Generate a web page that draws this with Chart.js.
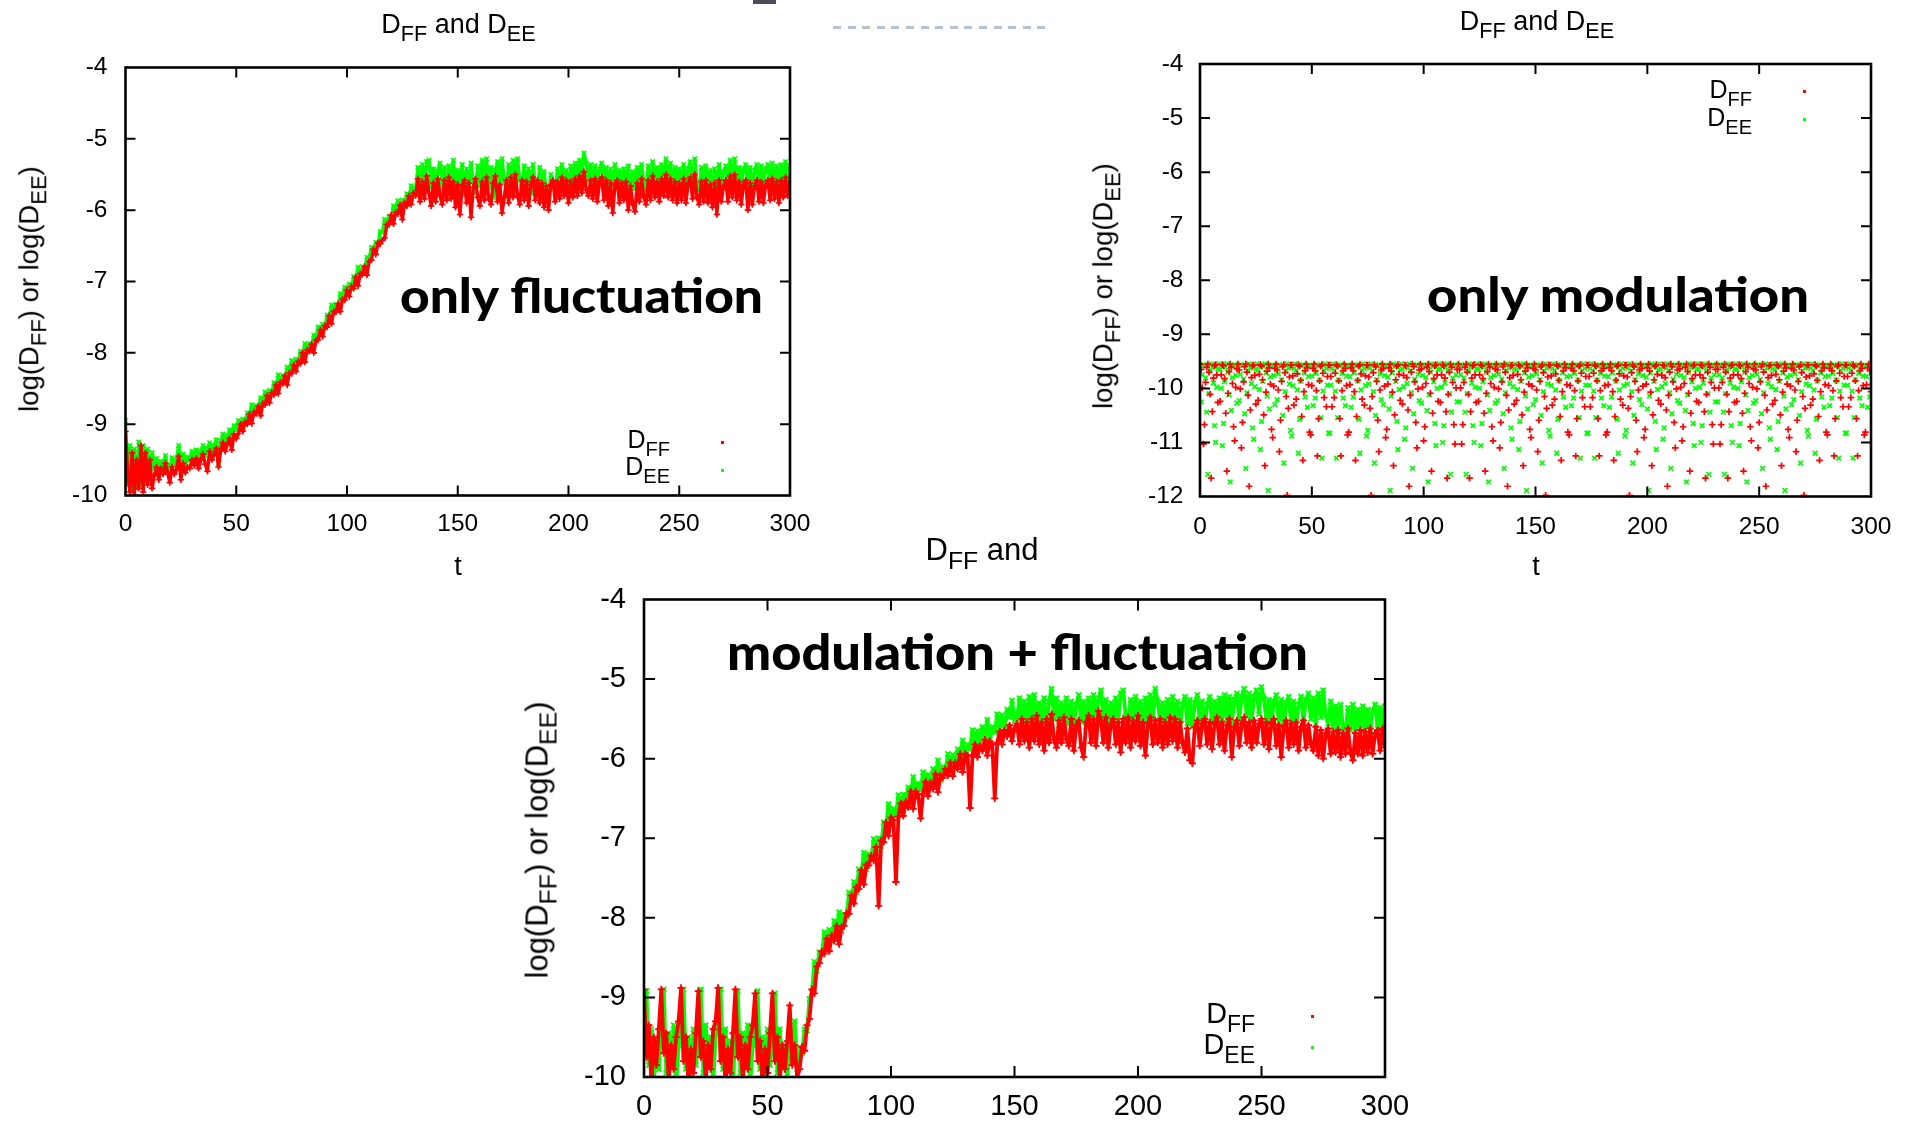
<!DOCTYPE html>
<html>
<head>
<meta charset="utf-8">
<title>D_FF and D_EE</title>
<script src="https://cdn.jsdelivr.net/npm/chart.js@4.4.1/dist/chart.umd.min.js"></script>
<style>
  html, body { margin: 0; padding: 0; background: #fff; }
  #page { position: relative; width: 1917px; height: 1127px; overflow: hidden;
          font-family: "Liberation Sans", Arial, Helvetica, sans-serif; color: #000; }
  canvas { position: absolute; left: 0; top: 0; }
  .txt { position: absolute; white-space: nowrap; line-height: 1; }
  .txt sub { font-size: 0.8em; vertical-align: -0.38em; line-height: 0; }
  .ctr { transform: translateX(-50%); }
  .rgt { transform: translateX(-100%); }
  .rot { transform: translate(-50%, -50%) rotate(-90deg); }
  .ann { position: absolute; white-space: nowrap; line-height: 1; transform-origin: 0 0;
         font-family: Lato, "Open Sans", sans-serif; font-weight: 900; color: #000; }
  .key { position: absolute; width: 2.5px; height: 2.5px; }
  #dash { position: absolute; left: 833px; top: 26px; width: 213px; height: 2.5px;
          background: repeating-linear-gradient(90deg, #b3c3d4 0 8px, transparent 8px 14.6px); }
  #bar { position: absolute; left: 753px; top: 0; width: 23px; height: 4px; background: #4b4b59; }
</style>
</head>
<body>
<div id="page">
  <canvas id="c1" width="1917" height="1127"></canvas>
  <canvas id="c2" width="1917" height="1127"></canvas>
  <canvas id="c3" width="1917" height="1127"></canvas>

  <div id="bar"></div>
  <div id="dash"></div>

  <!-- left panel: only fluctuation -->
  <div class="txt ctr" style="left:458.5px; top:10.5px; font-size:27px;">D<sub>FF</sub> and D<sub>EE</sub></div>
  <div class="txt rot" style="left:29px; top:289px; font-size:27.5px;">log(D<sub>FF</sub>) or log(D<sub>EE</sub>)</div>
  <div class="txt ctr" style="left:458px; top:552.5px; font-size:27px;">t</div>
  <div class="ann" data-w="363" style="left:400px; top:271.9px; font-size:47px;">only fluctuation</div>
  <div class="txt rgt" style="left:670px; top:427px; font-size:25px;">D<sub>FF</sub></div>
  <div class="txt rgt" style="left:670px; top:453.8px; font-size:25px;">D<sub>EE</sub></div>
  <div class="key" style="left:721px; top:441px; background:#ff0000;"></div>
  <div class="key" style="left:721px; top:469px; background:#00ff00;"></div>

  <!-- right panel: only modulation -->
  <div class="txt ctr" style="left:1537px; top:7.6px; font-size:27px;">D<sub>FF</sub> and D<sub>EE</sub></div>
  <div class="txt rot" style="left:1103px; top:286px; font-size:27.5px;">log(D<sub>FF</sub>) or log(D<sub>EE</sub>)</div>
  <div class="txt ctr" style="left:1536px; top:553px; font-size:27px;">t</div>
  <div class="ann" data-w="382" style="left:1427px; top:271.3px; font-size:47px;">only modulation</div>
  <div class="txt rgt" style="left:1752px; top:76.8px; font-size:25px;">D<sub>FF</sub></div>
  <div class="txt rgt" style="left:1752px; top:104.8px; font-size:25px;">D<sub>EE</sub></div>
  <div class="key" style="left:1803px; top:90px; background:#ff0000;"></div>
  <div class="key" style="left:1803px; top:118px; background:#00ff00;"></div>

  <!-- bottom panel: modulation + fluctuation -->
  <div class="txt" style="left:925.5px; top:533.5px; font-size:31px;">D<sub>FF</sub> and</div>
  <div class="txt rot" style="left:537px; top:839.5px; font-size:31px;">log(D<sub>FF</sub>) or log(D<sub>EE</sub>)</div>
  <div class="ann" data-w="581" style="left:727px; top:625.6px; font-size:50px;">modulation + fluctuation</div>
  <div class="txt rgt" style="left:1255px; top:998.7px; font-size:28.75px;">D<sub>FF</sub></div>
  <div class="txt rgt" style="left:1255px; top:1029.7px; font-size:28.75px;">D<sub>EE</sub></div>
  <div class="key" style="left:1311px; top:1015px; background:#ff0000;"></div>
  <div class="key" style="left:1311px; top:1046px; background:#00ff00;"></div>
</div>

<script>
// ---- sampling of the time axis ----
const T_STEP = 1;                 // one sample per unit of t
const xTicks = [0, 50, 100, 150, 200, 250, 300];
const yTicksA = [-10, -9, -8, -7, -6, -5, -4];
const yTicksB = [-12, -11, -10, -9, -8, -7, -6, -5, -4];

// ---- only fluctuation: log10 D_FF (red) and log10 D_EE (green), t = 0..300 ----
const dffFluct = [
  -9.1,-9.7,-9.95,-9.4,-10.0,-9.5,-9.9,-9.3,-9.95,-9.4,-9.85,-9.5,-9.9,
  -9.72,-9.6,-9.78,-9.62,-9.7,-9.55,-9.68,-9.82,-9.6,-9.7,-9.64,-9.45,-9.78,-9.55,-9.68,-9.6,-9.62,-9.5,
  -9.58,-9.48,-9.62,-9.5,-9.42,-9.56,-9.66,-9.38,-9.5,-9.42,-9.34,-9.6,-9.36,-9.26,-9.38,-9.28,-9.2,-9.36,-9.14,-9.2,
  -9.13,-9.0,-9.1,-8.97,-9.0,-8.86,-8.99,-8.83,-8.85,-8.75,-8.88,-8.71,
  -8.73,-8.6,-8.7,-8.56,-8.59,-8.45,-8.57,-8.41,-8.43,-8.32,-8.45,
  -8.28,-8.29,-8.17,-8.26,-8.12,-8.15,-8.0,-8.13,-7.96,-7.98,-7.88,-8.0,
  -7.82,-7.82,-7.68,-7.77,-7.62,-7.64,-7.48,-7.59,-7.42,-7.43,-7.31,-7.42,
  -7.25,-7.26,-7.12,-7.21,-7.07,-7.1,-6.94,-7.06,-6.89,-6.9,-6.79,-6.91,
  -6.72,-6.7,-6.55,-6.62,-6.46,-6.47,-6.42,-6.39,-6.2,-6.2,-6.07,
  -6.19,-6.03,-6.05,-5.93,-6.13,-5.9,-5.94,-5.8,-5.92,-5.76,
  -5.8,-5.56,-5.88,-5.6,-5.84,-5.52,-5.76,-5.94,-5.62,-5.88,-5.56,-5.8,-5.92,-5.58,-5.86,-5.54,-5.84,-5.6,-5.96,-5.64,
  -6.06,-5.66,-5.58,-5.9,-5.62,-6.1,-5.68,-5.56,-5.82,-5.94,-5.6,-5.86,-5.54,-5.84,-5.92,-5.62,-5.52,-5.88,-5.64,-6.04,
  -5.82,-5.58,-5.9,-5.54,-5.82,-5.5,-5.8,-5.92,-5.58,-5.86,-5.6,-5.94,-5.64,-5.54,-5.86,-5.58,-5.9,-5.62,-5.96,-5.66,
  -6.0,-5.64,-5.58,-5.88,-5.6,-5.84,-5.54,-5.8,-5.58,-5.9,-5.6,-5.82,-5.56,-5.8,-5.52,-5.76,-5.46,-5.72,-5.8,-5.58,
  -5.84,-5.56,-5.88,-5.6,-5.54,-5.86,-5.58,-5.94,-5.62,-6.04,-5.64,-5.58,-5.9,-5.62,-5.86,-5.6,-6.0,-5.66,-5.92,-6.02,
  -5.62,-5.88,-5.56,-5.82,-5.92,-5.58,-5.86,-5.52,-5.82,-5.6,-5.88,-5.56,-5.8,-5.5,-5.82,-5.56,-5.86,-5.6,-5.9,-5.62,
  -5.86,-5.56,-5.9,-5.62,-5.54,-5.84,-5.5,-5.82,-5.92,-5.6,-5.88,-5.58,-5.9,-5.64,-5.96,-5.62,-6.06,-5.58,-5.88,-5.66,
  -5.58,-5.88,-5.52,-5.82,-5.5,-5.86,-5.6,-5.92,-5.64,-5.58,-6.0,-5.62,-5.92,-5.66,-5.58,-5.88,-5.6,-5.9,-5.64,-5.58,
  -5.86,-5.56,-5.84,-5.6,-5.9,-5.58,-5.82,-5.54,-5.8,-5.6
];
const deeFluct = [
  -8.95,-9.85,-9.3,-9.95,-9.35,-9.9,-9.25,-9.85,-9.3,-9.8,-9.35,-9.75,-9.4,
  -9.62,-9.48,-9.66,-9.52,-9.6,-9.44,-9.58,-9.66,-9.47,-9.56,-9.5,-9.3,-9.54,-9.42,-9.56,-9.46,-9.5,-9.38,
  -9.48,-9.36,-9.46,-9.38,-9.3,-9.44,-9.34,-9.26,-9.38,-9.3,-9.22,-9.55,-9.24,-9.14,-9.26,-9.16,-9.08,-9.18,-9.02,-9.08,
  -8.95,-9.03,-8.93,-9.0,-8.84,-8.88,-8.73,-8.85,-8.74,-8.79,-8.63,-8.67,
  -8.55,-8.63,-8.53,-8.59,-8.42,-8.47,-8.31,-8.43,-8.32,-8.36,-8.2,
  -8.24,-8.11,-8.2,-8.09,-8.15,-7.98,-8.03,-7.87,-7.98,-7.87,-7.92,-7.75,
  -7.78,-7.64,-7.71,-7.6,-7.65,-7.47,-7.5,-7.33,-7.44,-7.32,-7.35,-7.17,
  -7.21,-7.08,-7.15,-7.04,-7.1,-6.93,-6.96,-6.8,-6.91,-6.79,-6.83,-6.66,
  -6.68,-6.52,-6.58,-6.45,-6.49,-6.3,-6.31,-6.13,-6.22,-6.09,-6.1,
  -5.94,-5.99,-5.87,-5.96,-5.86,-5.93,-5.77,-5.82,-5.66,-5.78,
  -5.7,-5.4,-5.75,-5.36,-5.62,-5.32,-5.3,-5.68,-5.42,-5.78,-5.45,-5.34,-5.7,-5.4,-5.8,-5.38,-5.64,-5.3,-5.72,-5.44,
  -5.7,-5.36,-5.78,-5.42,-5.7,-5.34,-5.6,-5.76,-5.38,-5.66,-5.3,-5.58,-5.28,-5.68,-5.4,-5.82,-5.44,-5.32,-5.66,-5.28,
  -5.6,-5.72,-5.36,-5.64,-5.3,-5.7,-5.28,-5.58,-5.72,-5.38,-5.68,-5.42,-5.76,-5.36,-5.66,-5.7,-5.4,-5.8,-5.46,-5.74,
  -5.86,-5.5,-5.62,-5.76,-5.42,-5.7,-5.36,-5.66,-5.44,-5.74,-5.38,-5.64,-5.34,-5.62,-5.3,-5.52,-5.2,-5.34,-5.6,-5.36,
  -5.66,-5.38,-5.7,-5.42,-5.34,-5.68,-5.4,-5.72,-5.42,-5.66,-5.36,-5.7,-5.44,-5.78,-5.42,-5.68,-5.38,-5.72,-5.46,-5.7,
  -5.4,-5.68,-5.36,-5.62,-5.72,-5.38,-5.66,-5.32,-5.64,-5.4,-5.7,-5.36,-5.6,-5.28,-5.62,-5.34,-5.68,-5.4,-5.7,-5.42,
  -5.66,-5.36,-5.7,-5.42,-5.32,-5.64,-5.28,-5.62,-5.72,-5.4,-5.68,-5.38,-5.7,-5.44,-5.76,-5.42,-5.68,-5.36,-5.7,-5.46,
  -5.38,-5.68,-5.3,-5.62,-5.28,-5.66,-5.4,-5.7,-5.42,-5.36,-5.66,-5.4,-5.72,-5.44,-5.36,-5.66,-5.38,-5.7,-5.42,-5.36,
  -5.64,-5.34,-5.62,-5.38,-5.68,-5.36,-5.6,-5.32,-5.58,-5.38
];

// ---- only modulation: samples at integer t (A) and at half-integer t (B) ----
const dffModA = [
  -9.55,-9.99,-10.67,-9.61,-9.7,-11.66,-9.81,-9.56,-10.26,-10.24,-9.56,-9.82,-11.53,-9.69,-9.61,-10.71,-9.98,
  -9.55,-10.01,-10.63,-9.6,-9.7,-11.81,-9.8,-9.57,-10.29,-10.22,-9.56,-9.84,-11.43,-9.68,-9.62,-10.76,-9.96,
  -9.55,-10.03,-10.59,-9.6,-9.71,-11.98,-9.79,-9.57,-10.31,-10.2,-9.56,-9.85,-11.33,-9.67,-9.62,-10.81,-9.95,
  -9.55,-10.04,-10.56,-9.59,-9.72,-12.2,-9.78,-9.57,-10.34,-10.17,-9.56,-9.86,-11.25,-9.67,-9.63,-10.86,-9.93,
  -9.55,-10.06,-10.52,-9.59,-9.73,-12.5,-9.77,-9.57,-10.37,-10.15,-9.56,-9.87,-11.17,-9.66,-9.63,-10.91,-9.92,
  -9.55,-10.07,-10.49,-9.59,-9.74,-12.98,-9.76,-9.58,-10.4,-10.13,-9.55,-9.88,-11.1,-9.66,-9.64,-10.97,-9.91,
  -9.55,-10.09,-10.46,-9.58,-9.75,-14,-9.75,-9.58,-10.43,-10.11,-9.55,-9.89,-11.03,-9.65,-9.65,-11.03,-9.89,
  -9.55,-10.11,-10.43,-9.58,-9.75,-14,-9.75,-9.58,-10.46,-10.09,-9.55,-9.91,-10.97,-9.64,-9.66,-11.1,-9.88,
  -9.55,-10.13,-10.4,-9.58,-9.76,-12.98,-9.74,-9.59,-10.49,-10.07,-9.55,-9.92,-10.91,-9.63,-9.66,-11.17,-9.87,
  -9.56,-10.15,-10.37,-9.57,-9.77,-12.5,-9.73,-9.59,-10.52,-10.06,-9.55,-9.93,-10.86,-9.63,-9.67,-11.25,-9.86,
  -9.56,-10.17,-10.34,-9.57,-9.78,-12.2,-9.72,-9.59,-10.56,-10.04,-9.55,-9.95,-10.81,-9.62,-9.67,-11.33,-9.85,
  -9.56,-10.2,-10.31,-9.57,-9.79,-11.98,-9.71,-9.6,-10.59,-10.03,-9.55,-9.96,-10.76,-9.62,-9.68,-11.43,-9.84,
  -9.56,-10.22,-10.29,-9.57,-9.8,-11.81,-9.7,-9.6,-10.63,-10.01,-9.55,-9.98,-10.71,-9.61,-9.69,-11.53,-9.82,
  -9.56,-10.24,-10.26,-9.56,-9.81,-11.66,-9.7,-9.61,-10.67,-9.99,-9.55,-9.99,-10.67,-9.61,-9.7,-11.66,-9.81,
  -9.56,-10.26,-10.24,-9.56,-9.82,-11.53,-9.69,-9.61,-10.71,-9.98,-9.55,-10.01,-10.63,-9.6,-9.7,-11.81,-9.8,
  -9.57,-10.29,-10.22,-9.56,-9.84,-11.43,-9.68,-9.62,-10.76,-9.96,-9.55,-10.03,-10.59,-9.6,-9.71,-11.98,-9.79,
  -9.57,-10.31,-10.2,-9.56,-9.85,-11.33,-9.67,-9.62,-10.81,-9.95,-9.55,-10.04,-10.56,-9.59,-9.72,-12.2,-9.78,
  -9.57,-10.34,-10.17,-9.56,-9.86,-11.25,-9.67,-9.63,-10.86,-9.93,-9.55,-10.06
];
const dffModB = [
  -9.65,-11.03,-9.89,-9.55,-10.11,-10.43,-9.58,-9.75,-14,-9.75,-9.58,-10.46,-10.09,-9.55,-9.91,-10.97,-9.64,
  -9.66,-11.1,-9.88,-9.55,-10.13,-10.4,-9.58,-9.76,-12.98,-9.74,-9.59,-10.49,-10.07,-9.55,-9.92,-10.91,-9.63,
  -9.66,-11.17,-9.87,-9.56,-10.15,-10.37,-9.57,-9.77,-12.5,-9.73,-9.59,-10.52,-10.06,-9.55,-9.93,-10.86,-9.63,
  -9.67,-11.25,-9.86,-9.56,-10.17,-10.34,-9.57,-9.78,-12.2,-9.72,-9.59,-10.56,-10.04,-9.55,-9.95,-10.81,-9.62,
  -9.67,-11.33,-9.85,-9.56,-10.2,-10.31,-9.57,-9.79,-11.98,-9.71,-9.6,-10.59,-10.03,-9.55,-9.96,-10.76,-9.62,
  -9.68,-11.43,-9.84,-9.56,-10.22,-10.29,-9.57,-9.8,-11.81,-9.7,-9.6,-10.63,-10.01,-9.55,-9.98,-10.71,-9.61,
  -9.69,-11.53,-9.82,-9.56,-10.24,-10.26,-9.56,-9.81,-11.66,-9.7,-9.61,-10.67,-9.99,-9.55,-9.99,-10.67,-9.61,
  -9.7,-11.66,-9.81,-9.56,-10.26,-10.24,-9.56,-9.82,-11.53,-9.69,-9.61,-10.71,-9.98,-9.55,-10.01,-10.63,-9.6,
  -9.7,-11.81,-9.8,-9.57,-10.29,-10.22,-9.56,-9.84,-11.43,-9.68,-9.62,-10.76,-9.96,-9.55,-10.03,-10.59,-9.6,
  -9.71,-11.98,-9.79,-9.57,-10.31,-10.2,-9.56,-9.85,-11.33,-9.67,-9.62,-10.81,-9.95,-9.55,-10.04,-10.56,-9.59,
  -9.72,-12.2,-9.78,-9.57,-10.34,-10.17,-9.56,-9.86,-11.25,-9.67,-9.63,-10.86,-9.93,-9.55,-10.06,-10.52,-9.59,
  -9.73,-12.5,-9.77,-9.57,-10.37,-10.15,-9.56,-9.87,-11.17,-9.66,-9.63,-10.91,-9.92,-9.55,-10.07,-10.49,-9.59,
  -9.74,-12.98,-9.76,-9.58,-10.4,-10.13,-9.55,-9.88,-11.1,-9.66,-9.64,-10.97,-9.91,-9.55,-10.09,-10.46,-9.58,
  -9.75,-14,-9.75,-9.58,-10.43,-10.11,-9.55,-9.89,-11.03,-9.65,-9.65,-11.03,-9.89,-9.55,-10.11,-10.43,-9.58,
  -9.75,-14,-9.75,-9.58,-10.46,-10.09,-9.55,-9.91,-10.97,-9.64,-9.66,-11.1,-9.88,-9.55,-10.13,-10.4,-9.58,
  -9.76,-12.98,-9.74,-9.59,-10.49,-10.07,-9.55,-9.92,-10.91,-9.63,-9.66,-11.17,-9.87,-9.56,-10.15,-10.37,-9.57,
  -9.77,-12.5,-9.73,-9.59,-10.52,-10.06,-9.55,-9.93,-10.86,-9.63,-9.67,-11.25,-9.86,-9.56,-10.17,-10.34,-9.57,
  -9.78,-12.2,-9.72,-9.59,-10.56,-10.04,-9.55,-9.95,-10.81,-9.62,-9.67
];
const deeModA = [
  -13.5,-9.75,-9.58,-10.44,-10.1,-9.55,-9.9,-11,-9.64,-9.65,-11.06,-9.88,-9.55,-10.12,-10.41,-9.58,-9.76,
  -13.28,-9.74,-9.58,-10.47,-10.08,-9.55,-9.91,-10.94,-9.64,-9.66,-11.13,-9.87,-9.55,-10.14,-10.38,-9.57,-9.76,
  -12.68,-9.73,-9.59,-10.5,-10.06,-9.55,-9.92,-10.88,-9.63,-9.67,-11.2,-9.86,-9.56,-10.16,-10.35,-9.57,-9.77,
  -12.33,-9.72,-9.59,-10.54,-10.05,-9.55,-9.94,-10.83,-9.63,-9.67,-11.29,-9.85,-9.56,-10.18,-10.32,-9.57,-9.78,
  -12.08,-9.71,-9.59,-10.57,-10.03,-9.55,-9.95,-10.78,-9.62,-9.68,-11.38,-9.84,-9.56,-10.21,-10.3,-9.57,-9.79,
  -11.89,-9.71,-9.6,-10.61,-10.02,-9.55,-9.97,-10.73,-9.62,-9.68,-11.48,-9.83,-9.56,-10.23,-10.27,-9.56,-9.8,
  -11.73,-9.7,-9.6,-10.65,-10,-9.55,-9.98,-10.69,-9.61,-9.69,-11.59,-9.81,-9.56,-10.25,-10.25,-9.56,-9.81,
  -11.59,-9.69,-9.61,-10.69,-9.98,-9.55,-10,-10.65,-9.61,-9.7,-11.73,-9.8,-9.56,-10.27,-10.23,-9.56,-9.83,
  -11.48,-9.68,-9.62,-10.73,-9.97,-9.55,-10.02,-10.61,-9.6,-9.71,-11.89,-9.79,-9.57,-10.3,-10.21,-9.56,-9.84,
  -11.38,-9.68,-9.62,-10.78,-9.95,-9.55,-10.03,-10.57,-9.59,-9.71,-12.08,-9.78,-9.57,-10.32,-10.18,-9.56,-9.85,
  -11.29,-9.67,-9.63,-10.83,-9.94,-9.55,-10.05,-10.54,-9.59,-9.72,-12.33,-9.77,-9.57,-10.35,-10.16,-9.56,-9.86,
  -11.2,-9.67,-9.63,-10.88,-9.92,-9.55,-10.06,-10.5,-9.59,-9.73,-12.68,-9.76,-9.57,-10.38,-10.14,-9.55,-9.87,
  -11.13,-9.66,-9.64,-10.94,-9.91,-9.55,-10.08,-10.47,-9.58,-9.74,-13.28,-9.76,-9.58,-10.41,-10.12,-9.55,-9.88,
  -11.06,-9.65,-9.64,-11,-9.9,-9.55,-10.1,-10.44,-9.58,-9.75,-13.5,-9.75,-9.58,-10.44,-10.1,-9.55,-9.9,
  -11,-9.64,-9.65,-11.06,-9.88,-9.55,-10.12,-10.41,-9.58,-9.76,-13.28,-9.74,-9.58,-10.47,-10.08,-9.55,-9.91,
  -10.94,-9.64,-9.66,-11.13,-9.87,-9.55,-10.14,-10.38,-9.57,-9.76,-12.68,-9.73,-9.59,-10.5,-10.06,-9.55,-9.92,
  -10.88,-9.63,-9.67,-11.2,-9.86,-9.56,-10.16,-10.35,-9.57,-9.77,-12.33,-9.72,-9.59,-10.54,-10.05,-9.55,-9.94,
  -10.83,-9.63,-9.67,-11.29,-9.85,-9.56,-10.18,-10.32,-9.57,-9.78,-12.08,-9.71
];
const deeModB = [
  -10.25,-9.56,-9.81,-11.59,-9.69,-9.61,-10.69,-9.98,-9.55,-10.0,-10.65,-9.61,-9.7,-11.73,-9.8,-9.56,-10.27,
  -10.23,-9.56,-9.83,-11.48,-9.68,-9.62,-10.73,-9.97,-9.55,-10.02,-10.61,-9.6,-9.71,-11.89,-9.79,-9.57,-10.3,
  -10.21,-9.56,-9.84,-11.38,-9.68,-9.62,-10.78,-9.95,-9.55,-10.03,-10.57,-9.59,-9.71,-12.08,-9.78,-9.57,-10.32,
  -10.18,-9.56,-9.85,-11.29,-9.67,-9.63,-10.83,-9.94,-9.55,-10.05,-10.54,-9.59,-9.72,-12.33,-9.77,-9.57,-10.35,
  -10.16,-9.56,-9.86,-11.2,-9.67,-9.63,-10.88,-9.92,-9.55,-10.06,-10.5,-9.59,-9.73,-12.68,-9.76,-9.57,-10.38,
  -10.14,-9.55,-9.87,-11.13,-9.66,-9.64,-10.94,-9.91,-9.55,-10.08,-10.47,-9.58,-9.74,-13.28,-9.76,-9.58,-10.41,
  -10.12,-9.55,-9.88,-11.06,-9.65,-9.64,-11.0,-9.9,-9.55,-10.1,-10.44,-9.58,-9.75,-13.5,-9.75,-9.58,-10.44,
  -10.1,-9.55,-9.9,-11.0,-9.64,-9.65,-11.06,-9.88,-9.55,-10.12,-10.41,-9.58,-9.76,-13.28,-9.74,-9.58,-10.47,
  -10.08,-9.55,-9.91,-10.94,-9.64,-9.66,-11.13,-9.87,-9.55,-10.14,-10.38,-9.57,-9.76,-12.68,-9.73,-9.59,-10.5,
  -10.06,-9.55,-9.92,-10.88,-9.63,-9.67,-11.2,-9.86,-9.56,-10.16,-10.35,-9.57,-9.77,-12.33,-9.72,-9.59,-10.54,
  -10.05,-9.55,-9.94,-10.83,-9.63,-9.67,-11.29,-9.85,-9.56,-10.18,-10.32,-9.57,-9.78,-12.08,-9.71,-9.59,-10.57,
  -10.03,-9.55,-9.95,-10.78,-9.62,-9.68,-11.38,-9.84,-9.56,-10.21,-10.3,-9.57,-9.79,-11.89,-9.71,-9.6,-10.61,
  -10.02,-9.55,-9.97,-10.73,-9.62,-9.68,-11.48,-9.83,-9.56,-10.23,-10.27,-9.56,-9.8,-11.73,-9.7,-9.61,-10.65,
  -10.0,-9.55,-9.98,-10.69,-9.61,-9.69,-11.59,-9.81,-9.56,-10.25,-10.25,-9.56,-9.81,-11.59,-9.69,-9.61,-10.69,
  -9.98,-9.55,-10.0,-10.65,-9.61,-9.7,-11.73,-9.8,-9.56,-10.27,-10.23,-9.56,-9.83,-11.48,-9.68,-9.62,-10.73,
  -9.97,-9.55,-10.02,-10.61,-9.6,-9.71,-11.89,-9.79,-9.57,-10.3,-10.21,-9.56,-9.84,-11.38,-9.68,-9.62,-10.78,
  -9.95,-9.55,-10.03,-10.57,-9.59,-9.71,-12.08,-9.78,-9.57,-10.32,-10.18,-9.56,-9.85,-11.29,-9.67,-9.63,-10.83,
  -9.94,-9.55,-10.05,-10.54,-9.59,-9.72,-12.33,-9.77,-9.57,-10.35,-10.16
];

// ---- modulation + fluctuation: log10 D_FF (red) and log10 D_EE (green), t = 0..300 ----
const dffBoth = [
  -8.9,-9.75,-9.35,-10.1,-9.5,-9.85,-9.4,-8.9,-9.7,-9.45,-10.05,-9.6,-9.9,-9.5,-9.3,-8.88,-9.8,-9.5,-10.1,-9.65,-9.95,
  -9.45,-8.92,-9.75,-9.55,-10.05,-9.6,-9.9,-9.4,-9.3,-8.88,-9.8,-9.5,-10.1,-9.65,-9.95,-9.45,-8.9,-9.75,-9.5,-10.05,
  -9.6,-9.9,-9.5,-9.35,-8.95,-9.8,-9.55,-10.1,-9.65,-9.95,-9.45,-8.95,-9.8,-9.5,-10.05,-9.6,-9.9,-9.55,-9.1,-9.85,-9.6,-10.0,
  -9.9,-9.62,-9.67,-9.35,-9.27,-8.9,-8.95,-8.61,-8.57,-8.42,-8.45,-8.26,-8.42,-8.22,-8.29,-8.1,-8.33,-8.11,-8.1,-7.94,
  -7.95,-7.72,-7.82,-7.61,-7.64,-7.4,-7.58,-7.33,-7.34,-7.22,-7.28,-7.11,-7.85,-7.03,-7.05,-6.8,-6.97,-6.74,-6.77,-7.55,
  -6.73,-6.56,-6.72,-6.54,-6.61,-6.41,-6.63,-6.41,-6.45,-6.75,-6.44,-6.29,-6.47,-6.3,-6.38,-6.19,-6.42,-6.21,-6.24,-6.13,
  -6.21,-6.05,-6.22,-6.05,-6.13,-5.94,-6.17,-5.94,-5.96,-6.62,-5.96,-5.82,-5.98,-5.84,-5.9,-5.76,-5.96,-5.78,-5.82,-6.5,
  -5.8,-5.66,-5.82,-5.64,-5.72,-5.58,-5.78,-5.62,
  -5.56,-5.82,-5.5,-5.78,-5.54,-5.86,-5.5,-5.78,-5.46,-5.82,-5.54,-5.9,-5.5,-5.8,-5.44,-5.76,-5.86,-5.52,-5.8,-5.48,
  -5.76,-5.84,-5.5,-5.9,-5.58,-5.52,-5.86,-5.98,-5.54,-5.46,-5.8,-5.5,-5.84,-5.4,-5.52,-5.8,-5.48,-5.86,-5.56,-5.5,
  -5.82,-5.54,-5.92,-5.5,-5.8,-5.48,-5.86,-5.52,-5.78,-5.46,-5.84,-5.54,-5.96,-5.56,-5.48,-5.82,-5.52,-5.8,-5.5,-5.86,
  -5.54,-5.82,-5.48,-5.78,-5.5,-5.86,-5.54,-5.8,-5.92,-5.62,-6.02,-6.06,-5.6,-5.52,-5.84,-5.56,-5.5,-5.82,-5.54,-5.88,
  -5.56,-5.48,-5.82,-5.54,-5.9,-5.58,-5.5,-5.98,-5.6,-5.52,-5.84,-5.56,-5.48,-5.8,-5.54,-5.86,-5.52,-5.8,-5.56,-5.5,
  -5.82,-5.54,-5.88,-5.56,-5.5,-5.84,-5.58,-5.98,-5.6,-5.52,-5.86,-5.56,-5.82,-5.54,-5.9,-5.6,-5.52,-5.86,-5.58,-5.82,
  -5.9,-5.6,-5.96,-5.64,-6.0,-5.68,-5.62,-5.94,-5.66,-5.92,-5.64,-5.98,-5.68,-5.94,-5.62,-5.92,-6.02,-5.68,-5.94,-5.64,
  -5.96,-5.66,-5.92,-5.62,-5.94,-5.68,-5.64,-5.9,-5.62,-5.86
];
const deeBoth = [
  -9.6,-8.92,-9.85,-9.4,-10.05,-9.55,-9.9,-9.3,-8.9,-9.95,-9.45,-9.8,-9.35,-10.1,-9.6,-9.2,-8.9,-9.9,-9.5,-10.05,-9.4,
  -9.85,-9.6,-8.9,-9.95,-9.35,-9.8,-9.5,-10.1,-9.45,-9.15,-8.9,-9.9,-9.4,-9.85,-9.55,-10.05,-9.5,-8.92,-9.95,-9.45,
  -9.8,-9.35,-10.1,-9.6,-9.25,-8.92,-9.9,-9.5,-10.0,-9.4,-9.85,-9.55,-8.95,-9.95,-9.4,-9.85,-9.6,-10.05,-9.5,-9.65,-9.3,-9.9,
  -9.63,-9.7,-9.4,-9.42,-9.02,-8.94,-8.55,-8.67,-8.43,-8.46,-8.18,-8.34,-8.15,-8.29,-8.04,-8.14,-7.93,-8.17,-7.96,-7.98,
  -7.68,-7.8,-7.55,-7.68,-7.39,-7.44,-7.18,-7.39,-7.2,-7.26,-7.01,-7.19,-7.0,-7.1,-6.8,-6.84,-6.57,-6.8,-6.63,-6.7,
  -6.46,-6.64,-6.45,-6.61,-6.36,-6.45,-6.23,-6.47,-6.31,-6.39,-6.17,-6.37,-6.2,-6.37,-6.13,-6.23,-6.02,-6.27,-6.1,-6.17,
  -5.94,-6.13,-5.95,-6.12,-5.88,-5.98,-5.77,-6.0,-5.82,-5.88,-5.64,-5.83,-5.65,-5.83,-5.6,-5.71,-5.51,-5.77,-5.6,-5.67,
  -5.44,-5.63,-5.45,-5.62,-5.38,-5.48,-5.27,-5.52,
  -5.5,-5.24,-5.56,-5.28,-5.6,-5.22,-5.5,-5.2,-5.58,-5.3,-5.54,-5.24,-5.62,-5.28,-5.12,-5.5,-5.24,-5.58,-5.3,-5.54,
  -5.24,-5.56,-5.28,-5.62,-5.32,-5.2,-5.54,-5.28,-5.6,-5.24,-5.52,-5.2,-5.48,-5.24,-5.14,-5.54,-5.26,-5.6,-5.3,-5.56,
  -5.24,-5.52,-5.18,-5.14,-5.46,-5.6,-5.26,-5.56,-5.22,-5.52,-5.28,-5.62,-5.24,-5.54,-5.2,-5.5,-5.12,-5.28,-5.56,-5.3,
  -5.6,-5.26,-5.54,-5.22,-5.58,-5.28,-5.66,-5.32,-5.22,-5.56,-5.26,-5.6,-5.3,-5.2,-5.54,-5.28,-5.62,-5.32,-5.22,-5.56,
  -5.28,-5.6,-5.24,-5.54,-5.2,-5.5,-5.22,-5.56,-5.26,-5.18,-5.52,-5.22,-5.12,-5.46,-5.18,-5.52,-5.22,-5.14,-5.44,-5.1,
  -5.24,-5.54,-5.26,-5.58,-5.28,-5.2,-5.54,-5.26,-5.6,-5.3,-5.22,-5.56,-5.28,-5.62,-5.32,-5.22,-5.54,-5.26,-5.18,-5.5,
  -5.24,-5.56,-5.18,-5.48,-5.14,-5.46,-5.56,-5.28,-5.6,-5.34,-5.64,-5.32,-5.6,-5.68,-5.36,-5.64,-5.32,-5.66,-5.38,-5.62,
  -5.34,-5.64,-5.38,-5.68,-5.4,-5.32,-5.62,-5.36,-5.6,-5.34
];

// ---- drawing ----
const PAGE_W = 1917, PAGE_H = 1127;
const X_BOX = 40;   // height reserved for the x tick labels
const TICK_FONT = "'Liberation Sans', Arial, Helvetica, sans-serif";
const RED = '#ff0000', GREEN = '#00ff00';

// gnuplot style frame: closed border with inward mirrored tick marks
const framePlugin = {
  id: 'frame',
  afterDatasetsDraw(chart, args, opts) {
    const { ctx, chartArea: a } = chart;
    const xs = chart.scales.x, ys = chart.scales.y;
    ctx.save();
    ctx.strokeStyle = '#000';
    ctx.lineWidth = opts.tickWidth;
    ctx.beginPath();
    xs.ticks.forEach(tk => {
      const px = xs.getPixelForValue(tk.value);
      if (px <= a.left + 1 || px >= a.right - 1) return;
      ctx.moveTo(px, a.bottom); ctx.lineTo(px, a.bottom - opts.tickLen);
      ctx.moveTo(px, a.top); ctx.lineTo(px, a.top + opts.tickLen);
    });
    ys.ticks.forEach(tk => {
      const py = ys.getPixelForValue(tk.value);
      if (py <= a.top + 1 || py >= a.bottom - 1) return;
      ctx.moveTo(a.left, py); ctx.lineTo(a.left + opts.tickLen, py);
      ctx.moveTo(a.right, py); ctx.lineTo(a.right - opts.tickLen, py);
    });
    ctx.stroke();
    ctx.lineWidth = opts.frameWidth;
    ctx.strokeRect(a.left, a.top, a.right - a.left, a.bottom - a.top);
    ctx.restore();
  }
};

// samples at t = i*T_STEP, optionally merged with a second set taken half a step later
function series(values, halfStepValues) {
  const pts = [];
  values.forEach((v, i) => {
    pts.push({ x: i * T_STEP, y: v });
    if (halfStepValues && i < halfStepValues.length) {
      pts.push({ x: (i + 0.5) * T_STEP, y: halfStepValues[i] });
    }
  });
  return pts;
}

function makePanel(p) {
  const dataset = (values, half, color, style) => ({
    data: series(values, half),
    borderColor: color,
    backgroundColor: color,
    borderWidth: p.lineWidth,
    borderJoinStyle: 'round',
    pointRadius: p.pointRadius,
    pointStyle: style,
    pointBorderWidth: p.markWidth,
    showLine: p.showLine,
    tension: 0,
    clip: 0
  });
  return new Chart(document.getElementById(p.canvas), {
    type: 'line',
    data: { datasets: [dataset(p.red, p.redHalf, RED, 'cross'),
                       dataset(p.green, p.greenHalf, GREEN, 'crossRot')] },
    options: {
      responsive: false,
      animation: false,
      devicePixelRatio: 1,
      events: [],
      layout: {
        padding: {
          left: p.padLeft,
          top: p.area.t,
          right: PAGE_W - p.area.r,
          bottom: PAGE_H - p.area.b - X_BOX
        }
      },
      plugins: {
        legend: { display: false },
        tooltip: { enabled: false },
        frame: { tickLen: p.tickLen, tickWidth: 2, frameWidth: 2.6 }
      },
      scales: {
        x: {
          type: 'linear', min: 0, max: 300,
          afterBuildTicks: s => { s.ticks = xTicks.map(v => ({ value: v })); },
          afterFit: s => { s.height = X_BOX; },
          grid: { display: false, drawTicks: false },
          border: { display: false },
          ticks: { color: '#000', font: { family: TICK_FONT, size: p.tickSize },
                   padding: p.xPad, maxRotation: 0, autoSkip: false, callback: v => String(v) }
        },
        y: {
          type: 'linear', min: p.yTicks[0], max: p.yTicks[p.yTicks.length - 1],
          afterBuildTicks: s => { s.ticks = p.yTicks.map(v => ({ value: v })); },
          afterFit: s => { s.width = p.area.l - p.padLeft; },
          grid: { display: false, drawTicks: false },
          border: { display: false },
          ticks: { color: '#000', font: { family: TICK_FONT, size: p.tickSize },
                   padding: p.yPad, autoSkip: false, callback: v => String(v) }
        }
      }
    },
    plugins: [framePlugin]
  });
}

makePanel({ canvas: 'c1', red: dffFluct, green: deeFluct, yTicks: yTicksA,
            area: { l: 125.5, r: 790, t: 67.5, b: 495.5 }, padLeft: 0,
            tickSize: 24.5, xPad: 14.3, yPad: 18, tickLen: 10,
            showLine: true, lineWidth: 3.4, pointRadius: 3.2, markWidth: 1.6 });
makePanel({ canvas: 'c2', red: dffModA, redHalf: dffModB, green: deeModA, greenHalf: deeModB,
            yTicks: yTicksB,
            area: { l: 1200, r: 1871, t: 64, b: 496.5 }, padLeft: 1080,
            tickSize: 24.5, xPad: 15.8, yPad: 16.5, tickLen: 10,
            showLine: false, lineWidth: 1, pointRadius: 3.3, markWidth: 1.7 });
makePanel({ canvas: 'c3', red: dffBoth, green: deeBoth, yTicks: yTicksA,
            area: { l: 644, r: 1385, t: 599.5, b: 1077 }, padLeft: 520,
            tickSize: 29, xPad: 12.6, yPad: 18, tickLen: 11,
            showLine: true, lineWidth: 3.8, pointRadius: 3.6, markWidth: 1.8 });

// stretch the bold captions to their measured widths
document.querySelectorAll('.ann').forEach(el => {
  const w = el.getBoundingClientRect().width;
  el.style.transform = 'scaleX(' + (parseFloat(el.dataset.w) / w) + ')';
});
</script>
</body>
</html>
